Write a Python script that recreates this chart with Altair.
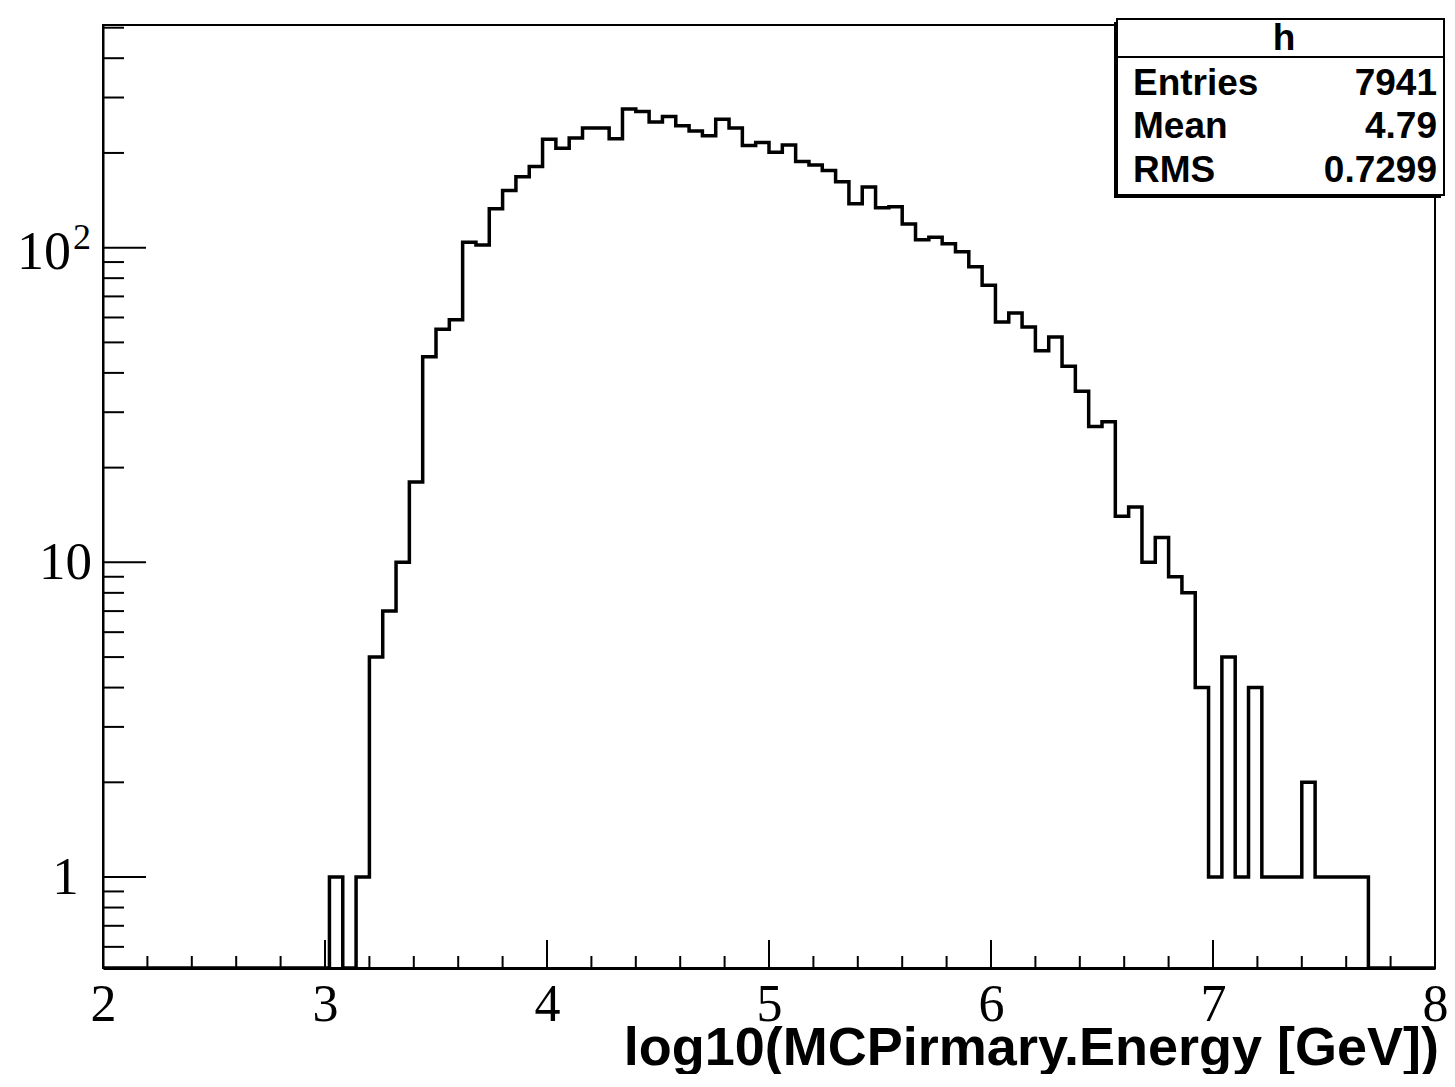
import altair as alt
import pandas as pd
import numpy as np

# ---------------- data ----------------
x_min, x_max, n_bins = 2.0, 8.0, 100
bin_width = (x_max - x_min) / n_bins

# bin contents, bins 17..94 (others empty)
counts_mid = [1, 0, 1, 5, 7, 10, 18, 45, 55, 59, 104, 102, 133,
              152, 168, 181, 221, 207, 223, 240, 240, 222, 276,
              271, 251, 261, 244, 235, 227, 256, 240, 211, 216,
              201, 212, 188, 183, 176, 162, 138, 156, 134, 135,
              119, 106, 108, 103, 97, 87, 76, 58, 62, 56,
              47, 52, 42, 35, 27, 28, 14, 15, 10, 12,
              9, 8, 4, 1, 5, 1, 4, 1, 1, 1, 2, 1, 1, 1, 1]
counts = [0] * 17 + counts_mid
counts = counts + [0] * (n_bins - len(counts))

x_tick_labels = [2, 3, 4, 5, 6, 7, 8]
y_tick_labels = [1, 10, 100]
y_tick_text = ["1", "10", ""]      # 10^2 drawn as base + superscript
sup_value, sup_base, sup_exp = 100, "10", "2"

stats_names = ["Entries", "Mean", "RMS"]
stats_values = ["7941", "4.79", "0.7299"]
stats_title = "h"
x_title = "log10(MCPirmary.Energy [GeV])"

# ---------------- tables ----------------
edges = [x_min + i * bin_width for i in range(n_bins)] + [x_max]
hist_df = pd.DataFrame({"edge": edges, "count": counts + [counts[-1]]})

x_minor = [round(2 + 0.2 * i, 2) for i in range(31) if i % 5 != 0]
y_minor = [0.6, 0.7, 0.8, 0.9] + [float(m) for m in range(2, 10)] + \
          [float(m * 10) for m in range(2, 10)] + [200.0, 300.0, 400.0, 500.0]

W, H = 1332, 943
xs = alt.Scale(domain=[x_min, x_max], nice=False, zero=False)
ys = alt.Scale(type="log", domain=[0.514, 510], nice=False, clamp=True)

label_expr = " : ".join(
    [f"datum.value == {v} ? '{t}'" for v, t in zip(y_tick_labels, y_tick_text)]
) + " : ''"

x_axis = alt.Axis(
    values=x_tick_labels, format="d", labelFont="Liberation Serif", labelFontSize=52,
    labelColor="black", ticks=False, tickSize=0, domainColor="black", domainWidth=3,
    grid=False, labelPadding=11, title=None, labelFlush=False, labelOverlap=False)
y_axis = alt.Axis(
    values=y_tick_labels, labelExpr=label_expr, labelFont="Liberation Serif",
    labelFontSize=53, labelColor="black", labelAlign="center", labelBaseline="middle",
    labelPadding=38, ticks=False, tickSize=0, domainColor="black", domainWidth=2,
    grid=False, title=None, labelOverlap=False)

hist = alt.Chart(hist_df).transform_calculate(
    yv="datum.count > 0 ? datum.count : 0.001"
).mark_line(interpolate="step-after", color="black", strokeWidth=3.5, clip=True).encode(
    x=alt.X("edge:Q", scale=xs, axis=x_axis),
    y=alt.Y("yv:Q", scale=ys, axis=y_axis),
)

def xticks(vals, length):
    return alt.Chart(pd.DataFrame({"v": vals})).mark_rule(color="black", strokeWidth=2).encode(
        x=alt.X("v:Q", scale=xs, axis=x_axis), y=alt.value(H), y2=alt.value(H - length))

def yticks(vals, length):
    return alt.Chart(pd.DataFrame({"v": vals})).mark_rule(color="black", strokeWidth=2).encode(
        y=alt.Y("v:Q", scale=ys, axis=y_axis), x=alt.value(0), x2=alt.value(length))

sup_df = pd.DataFrame({"v": [sup_value]})
sup_base_layer = alt.Chart(sup_df).mark_text(
    text=sup_base, font="Liberation Serif", fontSize=54, align="center", baseline="middle",
    color="black", dy=5).encode(y=alt.Y("v:Q", scale=ys, axis=y_axis), x=alt.value(-59))
sup_exp_layer = alt.Chart(sup_df).mark_text(
    text=sup_exp, font="Liberation Serif", fontSize=36, align="center", baseline="middle",
    color="black", dy=-10).encode(y=alt.Y("v:Q", scale=ys, axis=y_axis), x=alt.value(-21))

one = pd.DataFrame({"a": [0]})
bx0, bx1, by0, by1 = 1014, 1341, -6, 170

shadow = alt.Chart(one).mark_rect(fill="black").encode(
    x=alt.value(bx0 - 3), x2=alt.value(bx1 - 3), y=alt.value(by0 + 3), y2=alt.value(by1 + 3))
box = alt.Chart(one).mark_rect(fill="white", stroke="black", strokeWidth=2).encode(
    x=alt.value(bx0), x2=alt.value(bx1), y=alt.value(by0), y2=alt.value(by1))
sep = alt.Chart(one).mark_rule(color="black", strokeWidth=2).encode(
    x=alt.value(bx0), x2=alt.value(bx1), y=alt.value(32))
title_h = alt.Chart(one).mark_text(text=stats_title, font="Liberation Sans", fontWeight="bold",
                                   fontSize=37, align="center", baseline="alphabetic",
                                   color="black").encode(x=alt.value(1181), y=alt.value(25))

stat_layers = []
row_y = [70, 113, 157]
for name, val, yy in zip(stats_names, stats_values, row_y):
    stat_layers.append(alt.Chart(one).mark_text(text=name, font="Liberation Sans", fontWeight="bold",
                                                fontSize=37, align="left", baseline="alphabetic",
                                                color="black").encode(x=alt.value(1030), y=alt.value(yy)))
    stat_layers.append(alt.Chart(one).mark_text(text=val, font="Liberation Sans", fontWeight="bold",
                                                fontSize=37, align="right", baseline="alphabetic",
                                                color="black").encode(x=alt.value(1334), y=alt.value(yy)))

xt = alt.Chart(one).mark_text(text=x_title, font="Liberation Sans", fontWeight="bold", fontSize=54,
                              align="right", baseline="alphabetic", color="black").encode(
    x=alt.value(1336), y=alt.value(1040))

chart = alt.layer(
    hist,
    xticks(x_tick_labels, 28), xticks(x_minor, 12),
    yticks(y_tick_labels, 43), yticks(y_minor, 21),
    sup_base_layer, sup_exp_layer,
    shadow, box, sep, title_h, *stat_layers, xt,
).properties(
    width=W, height=H,
    autosize=alt.AutoSizeParams(type="none"),
    padding={"left": 95, "top": 17, "right": 12, "bottom": 106},
    background="white",
).configure_view(stroke="black", strokeWidth=2)

chart.save("out.html", embed_options={"renderer": "svg", "actions": False})
